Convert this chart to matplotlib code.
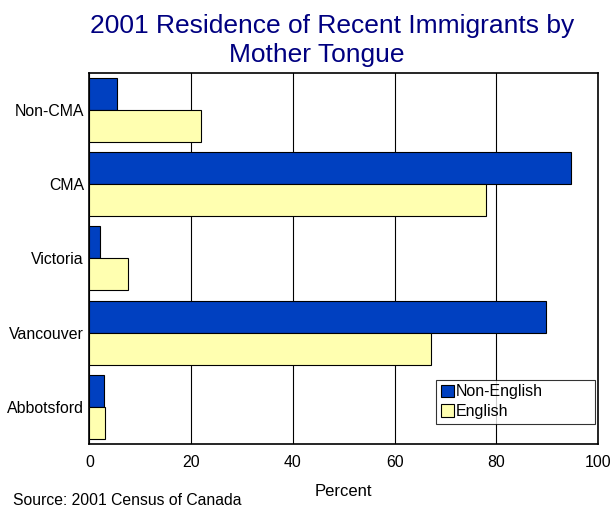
import numpy as np
import matplotlib
matplotlib.use("Agg")
import matplotlib.pyplot as plt

plt.rcParams['font.family'] = ['Liberation Sans', 'DejaVu Sans']

# data (percent of recent immigrants)
places = ["Non-CMA", "CMA", "Victoria", "Vancouver", "Abbotsford"]
non_english = [5.4, 94.6, 2.0, 89.7, 2.8]
english = [22.0, 78.0, 7.5, 67.2, 3.1]

blue = "#0040C0"
yellow = "#FFFFB0"
navy = "#000080"

fig = plt.figure(figsize=(6.1, 5.08), dpi=100)
ax = fig.add_axes([0.1467, 0.126, 0.834, 0.731])

y = np.arange(len(places))
h = 0.43
ax.barh(y - h / 2, non_english, height=h, color=blue, edgecolor="black",
        linewidth=0.8, label="Non-English", zorder=3)
ax.barh(y + h / 2, english, height=h, color=yellow, edgecolor="black",
        linewidth=0.8, label="English", zorder=3)

ax.set_xlim(0, 100)
ax.set_ylim(len(places) - 0.5, -0.5)
ax.set_yticks(y)
ax.set_yticklabels(places)
ax.set_xticks([0, 20, 40, 60, 80, 100])
ax.tick_params(length=0, labelsize=11.4)
ax.tick_params(axis="x", pad=8)
ax.tick_params(axis="y", pad=4)
ax.xaxis.grid(True, color="black", linewidth=0.8, zorder=0)
for s in ax.spines.values():
    s.set_linewidth(1.2)

ax.set_xlabel("Percent", fontsize=12, labelpad=10)

# title, two lines
fig.text(332 / 610, 1 - 33 / 508, "2001 Residence of Recent Immigrants by",
         fontsize=19, color=navy, ha="center", va="baseline")
fig.text(317 / 610, 1 - 62 / 508, "Mother Tongue",
         fontsize=19, color=navy, ha="center", va="baseline")

leg = ax.legend(loc="lower left", bbox_to_anchor=(0.682, 0.054, 0.312, 0.126),
                mode="expand", fontsize=11.5,
                frameon=True, fancybox=False, edgecolor="black",
                handlelength=0.8, handleheight=0.8, handletextpad=0.1,
                borderpad=0.3, labelspacing=0.3, borderaxespad=0)
leg.get_frame().set_linewidth(0.8)

fig.text(0.021, 0.006, "Source: 2001 Census of Canada", fontsize=11.3)

fig.savefig("out.png", dpi=100)
